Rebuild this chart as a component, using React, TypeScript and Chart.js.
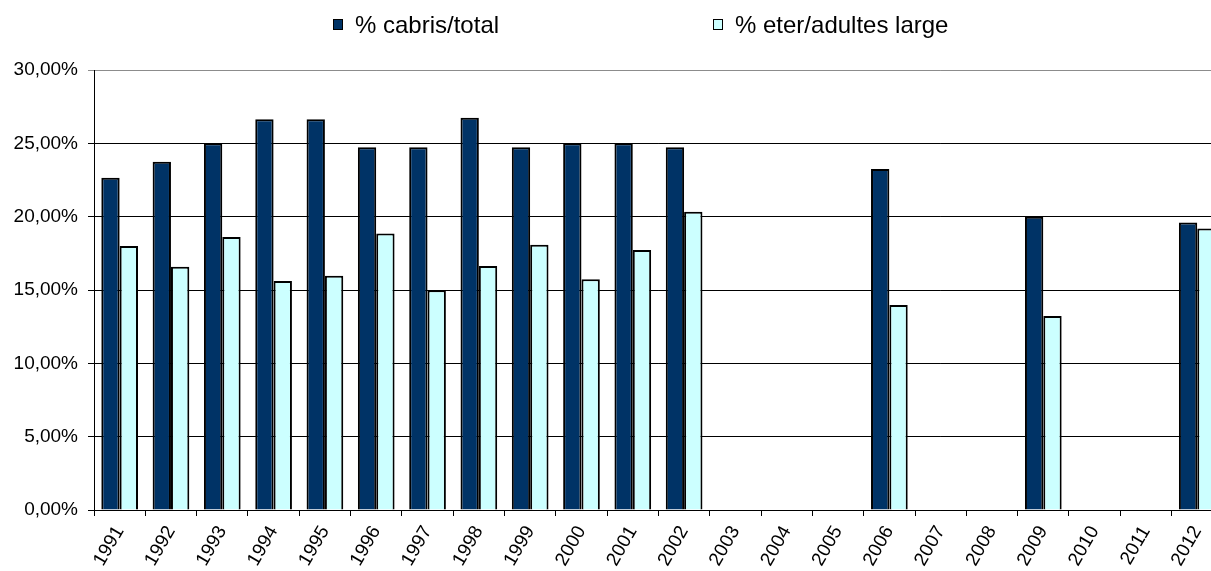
import React, { useEffect, useRef } from "react";
import { Chart, registerables } from "chart.js";

Chart.register(...registerables);

const years = [
  "1991", "1992", "1993", "1994", "1995", "1996", "1997", "1998", "1999", "2000", "2001",
  "2002", "2003", "2004", "2005", "2006", "2007", "2008", "2009", "2010", "2011", "2012",
];
const cabrisTotal: (number | null)[] = [
  22.66, 23.75, 25.0, 26.64, 26.64, 24.73, 24.73, 26.75, 24.73, 25.0, 25.0,
  24.73, null, null, null, 23.25, null, null, 20.0, null, null, 19.61,
];
const eterAdultes: (number | null)[] = [
  18.0, 16.59, 18.61, 15.61, 15.98, 18.86, 14.98, 16.64, 18.09, 15.73, 17.73,
  20.34, null, null, null, 13.98, null, null, 13.23, null, null, 19.2,
];
const seriesLabels = ["% cabris/total", "% eter/adultes large"];
const seriesColors = ["#003366", "#CCFFFF"];

const FONT = "'Liberation Sans', Arial, sans-serif";

const legendPlugin = {
  id: "excelLegend",
  afterDraw(chart: any) {
    const ctx = chart.ctx;
    const starts = [333, 713];
    ctx.save();
    ctx.font = `24px ${FONT}`;
    ctx.textBaseline = "middle";
    ctx.textAlign = "left";
    seriesLabels.forEach((lab, i) => {
      const x = starts[i];
      const y = 25;
      ctx.fillStyle = seriesColors[i];
      ctx.fillRect(x, y - 6, 10, 11);
      ctx.strokeStyle = "#000";
      ctx.lineWidth = 1;
      ctx.strokeRect(x + 0.5, y - 5.5, 9, 10);
      ctx.fillStyle = "#000";
      ctx.fillText(lab, x + 22, y + 1);
    });
    ctx.restore();
  },
};

export default function App() {
  const ref = useRef<HTMLCanvasElement | null>(null);
  useEffect(() => {
    if (!ref.current) return;
    const chart = new Chart(ref.current, {
      type: "bar",
      data: {
        labels: years,
        datasets: [
          {
            label: seriesLabels[0],
            data: cabrisTotal,
            backgroundColor: seriesColors[0],
            borderColor: "#000",
            borderWidth: 2,
          },
          {
            label: seriesLabels[1],
            data: eterAdultes,
            backgroundColor: seriesColors[1],
            borderColor: "#000",
            borderWidth: 2,
          },
        ],
      },
      options: {
        responsive: false,
        animation: false,
        datasets: { bar: { barPercentage: 1, categoryPercentage: 0.715 } },
        layout: { padding: { top: 70, left: 0, right: 0, bottom: 0 } },
        plugins: {
          legend: { display: false },
          tooltip: { enabled: false },
        },
        scales: {
          x: {
            offset: true,
            grid: {
              display: true,
              offset: true,
              drawOnChartArea: false,
              drawTicks: true,
              tickLength: 6,
              color: "#000",
            },
            border: { display: true, color: "#000", width: 1 },
            ticks: {
              autoSkip: false,
              maxRotation: 60,
              minRotation: 60,
              padding: 6,
              color: "#000",
              font: { family: FONT, size: 19 },
            },
            afterFit(scale: any) {
              scale.height = 61;
            },
          },
          y: {
            min: 0,
            max: 30,
            ticks: {
              stepSize: 5,
              padding: 10,
              color: "#000",
              font: { family: FONT, size: 19 },
              callback: (v: any) => Number(v).toFixed(2).replace(".", ",") + "%",
            },
            grid: {
              color: (c: any) => (c.tick && c.tick.value === 30 ? "#8c8c8c" : "#000"),
              lineWidth: 1,
              tickLength: 6,
              drawTicks: true,
            },
            border: { display: true, color: "#000", width: 1 },
            afterFit(scale: any) {
              scale.width = 94;
            },
          },
        },
      },
      plugins: [legendPlugin],
    });
    return () => chart.destroy();
  }, []);
  return (
    <div
      style={{
        position: "fixed",
        left: 0,
        top: 0,
        width: 1211,
        height: 571,
        overflow: "hidden",
        background: "#fff",
      }}
    >
      <canvas ref={ref} width={1223} height={571} style={{ display: "block" }} />
    </div>
  );
}
